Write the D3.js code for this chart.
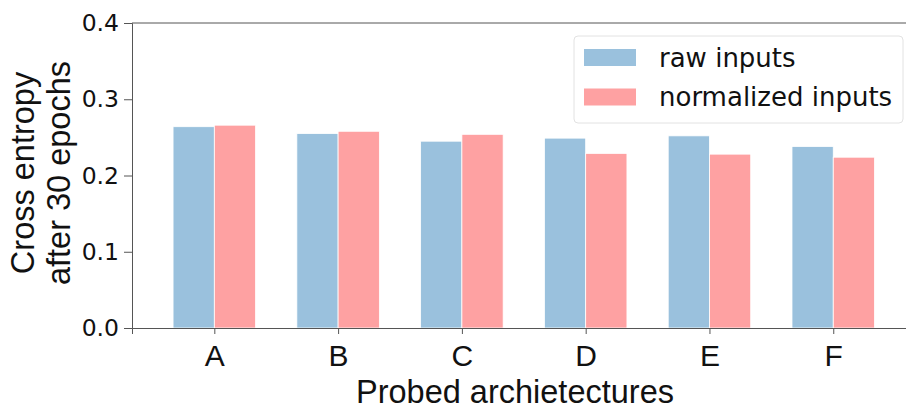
<!DOCTYPE html>
<html>
<head>
<meta charset="utf-8">
<script src="https://cdn.jsdelivr.net/npm/d3@7"></script>
<style>
  html, body { margin: 0; padding: 0; background: #fff; }
</style>
</head>
<body>
<script>
const categories = ["A", "B", "C", "D", "E", "F"];
const rawInputs = [0.264, 0.255, 0.245, 0.249, 0.252, 0.238];
const normalizedInputs = [0.266, 0.258, 0.254, 0.229, 0.228, 0.224];
const seriesNames = ["raw inputs", "normalized inputs"];
const yTicks = [0.0, 0.1, 0.2, 0.3, 0.4];

const width = 906;
const height = 408;
const colors = ["#9ac1dd", "#fea1a2"];

const svg = d3.select("body").append("svg")
  .attr("width", width)
  .attr("height", height);

// plot area (right spine sits just outside the picture)
const plotLeft = 132, plotRight = 910, plotTop = 23, plotBottom = 328;

const x = d3.scaleLinear().domain([-0.665, 5.62]).range([plotLeft, plotRight]);
const y = d3.scaleLinear().domain([0, 0.4]).range([plotBottom, plotTop]);
const bw = 1 / 3;

const series = [rawInputs, normalizedInputs];
series.forEach((vals, s) => {
  svg.append("g").selectAll("rect")
    .data(vals)
    .enter()
    .append("rect")
    .attr("x", (d, i) => x(i - bw + s * bw))
    .attr("y", d => y(d))
    .attr("width", x(bw) - x(0))
    .attr("height", d => y(0) - y(d))
    .attr("fill", colors[s])
    .attr("stroke", "#fff")
    .attr("stroke-width", 0.8);
});

// spines
const spine = "#555";
svg.append("line").attr("x1", plotLeft).attr("x2", plotRight).attr("y1", plotTop).attr("y2", plotTop)
  .attr("stroke", spine).attr("stroke-width", 1);
svg.append("line").attr("x1", plotRight).attr("x2", plotRight).attr("y1", plotTop).attr("y2", plotBottom)
  .attr("stroke", spine).attr("stroke-width", 1);

// y axis
const yAxis = svg.append("g")
  .attr("transform", `translate(${plotLeft},0)`)
  .call(d3.axisLeft(y).tickValues(yTicks).tickFormat(d3.format(".1f")).tickSize(8).tickPadding(5));
yAxis.select(".domain").attr("stroke", spine);
yAxis.selectAll(".tick line").attr("stroke", spine);
yAxis.selectAll("text")
  .attr("font-family", "DejaVu Sans")
  .attr("font-size", 23.5)
  .attr("fill", "#111");

// x axis
const xAxis = svg.append("g")
  .attr("transform", `translate(0,${plotBottom})`)
  .call(d3.axisBottom(x).tickValues(d3.range(categories.length))
    .tickFormat(i => categories[i]).tickSize(6).tickPadding(11));
xAxis.select(".domain").attr("stroke", spine);
xAxis.selectAll(".tick line").attr("stroke", spine);
xAxis.selectAll("text")
  .attr("font-family", "Liberation Sans")
  .attr("font-size", 30)
  .attr("fill", "#111");

// axis labels
svg.append("text")
  .attr("x", 515)
  .attr("y", 402.5)
  .attr("text-anchor", "middle")
  .attr("font-family", "Liberation Sans")
  .attr("font-size", 32.5)
  .attr("fill", "#111")
  .text("Probed archietectures");

const ylab = svg.append("text")
  .attr("transform", "translate(0,173) rotate(-90)")
  .attr("text-anchor", "middle")
  .attr("font-family", "Liberation Sans")
  .attr("font-size", 32.5)
  .attr("fill", "#111");
ylab.append("tspan").attr("x", 0).attr("y", 34).text("Cross entropy");
ylab.append("tspan").attr("x", 0).attr("y", 70).text("after 30 epochs");

// legend
const lg = svg.append("g").attr("transform", "translate(574,36)");
lg.append("rect")
  .attr("width", 329).attr("height", 87)
  .attr("rx", 4)
  .attr("fill", "#fff")
  .attr("fill-opacity", 0.8)
  .attr("stroke", "#e2e2e2");
seriesNames.forEach((name, i) => {
  lg.append("rect")
    .attr("x", 10).attr("y", 13 + i * 39.5)
    .attr("width", 52).attr("height", 17)
    .attr("fill", colors[i]);
  lg.append("text")
    .attr("x", 85).attr("y", 30.5 + i * 39.5)
    .attr("font-family", "DejaVu Sans")
    .attr("font-size", 26)
    .attr("fill", "#111")
    .text(name);
});
</script>
</body>
</html>
